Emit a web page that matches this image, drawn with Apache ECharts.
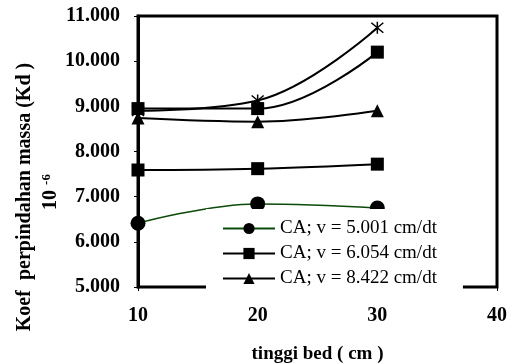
<!DOCTYPE html>
<html><head><meta charset="utf-8">
<script src="https://cdn.jsdelivr.net/npm/echarts@6/dist/echarts.min.js"></script>
<style>html,body{margin:0;padding:0;background:#fff}#c{width:512px;height:364px}</style>
</head><body><div id="c"></div>
<script>
var bedHeights = [10, 20, 30];
var seriesNames = ['CA; v = 5.001 cm/dt', 'CA; v = 6.054 cm/dt', 'CA; v = 8.422 cm/dt'];
var circleVals = [6.41, 6.84, 6.75];
var squareLowVals = [7.59, 7.62, 7.72];
var triangleVals = [8.74, 8.66, 8.90];
var squareHighVals = [8.95, 8.95, 10.20];
var starVals = [8.90, 9.13, 10.74];
var xTicks = [10, 20, 30, 40];
var yTickLabels = ['5.000','6.000','7.000','8.000','9.000','10.000','11.000'];

function pairs(v){ return bedHeights.map(function(x,i){return [x, v[i]];}); }
var serif = 'Liberation Serif';
var starPath = 'path://M0,0L10,10M10,0L0,10M5,-1L5,11';

var chart = echarts.init(document.getElementById('c'));
chart.setOption({
  animation: false,
  grid: {left: 138, right: 15, top: 16, bottom: 77, show: true, borderColor: '#000', borderWidth: 3,
    outerBoundsMode: 'none', containLabel: false},
  xAxis: {
    type: 'value', min: 10, max: 40, interval: 10,
    axisLine: {show: true, lineStyle: {color: '#000', width: 1}},
    axisTick: {show: true, length: 4, lineStyle: {color: '#000'}},
    splitLine: {show: false},
    axisLabel: {color: '#000', fontFamily: serif, fontWeight: 'bold', fontSize: 20, margin: 19,
      formatter: function(v){ return xTicks.indexOf(v) >= 0 ? String(v) : ''; }},
    name: 'tinggi bed ( cm )', nameLocation: 'middle', nameGap: 58,
    nameTextStyle: {color: '#000', fontFamily: serif, fontWeight: 'bold', fontSize: 19}
  },
  yAxis: {
    type: 'value', min: 5, max: 11, interval: 1,
    axisLine: {show: true, lineStyle: {color: '#000', width: 3}},
    axisTick: {show: true, length: 4, lineStyle: {color: '#000'}},
    splitLine: {show: false},
    axisLabel: {color: '#000', fontFamily: serif, fontWeight: 'bold', fontSize: 20, margin: 18,
      formatter: function(v){ return yTickLabels[Math.round(v) - 5]; }}
  },
  legend: {
    data: seriesNames,
    orient: 'vertical', left: 206, top: 209, width: 260,
    backgroundColor: '#fff', padding: [10, 26, 8, 16], itemGap: 6,
    itemWidth: 52, itemHeight: 14,
    textStyle: {color: '#000', fontFamily: serif, fontSize: 19},
    z: 20
  },
  graphic: [
    {type: 'text', x: 25, y: 197, rotation: Math.PI/2, style: {text: 'Koef  perpindahan massa (Kd )', fill: '#000',
      font: 'bold 20px "Liberation Serif"', align: 'center', verticalAlign: 'middle'}},
    {type: 'text', x: 51, y: 192, rotation: Math.PI/2, style: {text: '{b|10 }{s|-6}', fill: '#000',
      align: 'center', verticalAlign: 'middle',
      rich: {b: {font: 'bold 20px "Liberation Serif"', fill: '#000'},
             s: {font: 'bold 13px "Liberation Serif"', fill: '#000', verticalAlign: 'top', padding: [0,0,8,0]}}}}
  ],
  series: [
    {name: seriesNames[0], type: 'line', smooth: 0.4, data: pairs(circleVals),
      symbol: 'circle', symbolSize: 15, lineStyle: {color: '#0b4a0b', width: 1.5},
      itemStyle: {color: '#000'}},
    {name: seriesNames[1], type: 'line', smooth: 0.4, data: pairs(squareLowVals),
      symbol: 'rect', symbolSize: 13, lineStyle: {color: '#000', width: 2},
      itemStyle: {color: '#000'}},
    {name: seriesNames[2], type: 'line', smooth: 0.4, data: pairs(triangleVals),
      symbol: 'triangle', symbolSize: 13, lineStyle: {color: '#000', width: 2},
      itemStyle: {color: '#000'}},
    {name: 'sq2', type: 'line', smooth: 0.4, data: pairs(squareHighVals),
      symbol: 'rect', symbolSize: 13, lineStyle: {color: '#000', width: 2},
      itemStyle: {color: '#000'}},
    {name: 'star', type: 'line', smooth: 0.4, data: pairs(starVals),
      symbol: starPath, symbolSize: 12, lineStyle: {color: '#000', width: 2},
      itemStyle: {color: 'none', borderColor: '#000', borderWidth: 1.5}}
  ]
});
</script></body></html>
